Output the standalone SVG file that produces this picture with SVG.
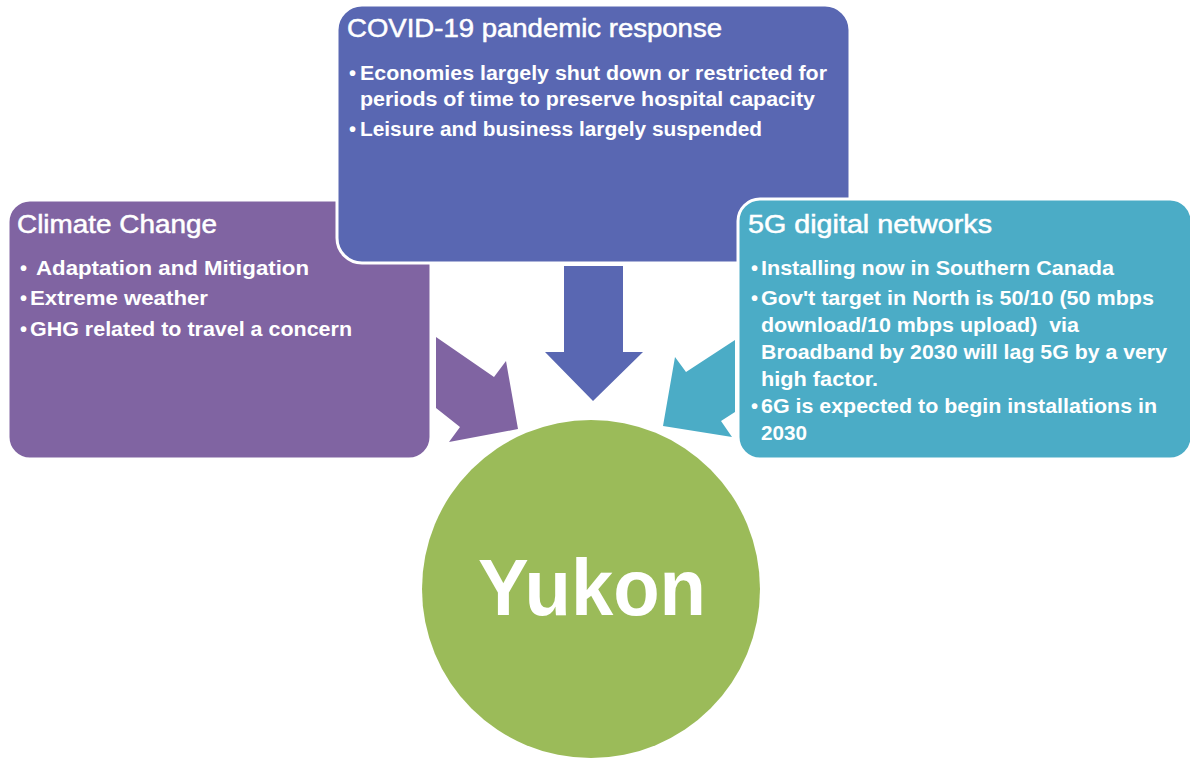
<svg xmlns="http://www.w3.org/2000/svg" width="1190" height="761" viewBox="0 0 1190 761">
  <style>
    .box { stroke: #ffffff; stroke-width: 3; }
    .title { font-family: "Liberation Sans", Arial, sans-serif; font-size: 25px; fill: #ffffff; stroke: #ffffff; stroke-width: 0.5px; }
    .item { font-family: "Liberation Sans", Arial, sans-serif; font-size: 20px; font-weight: bold; fill: #ffffff; }
    .big { font-family: "Liberation Sans", Arial, sans-serif; font-size: 80px; font-weight: bold; fill: #ffffff; }
  </style>
  <rect width="1190" height="761" fill="#ffffff"/>

  <g id="yukon">
    <circle cx="591" cy="589" r="169" fill="#9BBB59"/>
    <text class="big" x="478" y="615" textLength="228" lengthAdjust="spacingAndGlyphs">Yukon</text>
  </g>

  <g id="connectors">
    <polygon points="436,337 494,377 506,361 518,429 449,442 460,427 436,408" fill="#8064A2"/>
    <polygon points="564,266 623,266 623,352 643,352 593,401 545,352 564,352" fill="#5967B2"/>
    <polygon points="735,340 686,372 675,357 663,426 732,437 721,421 735,412" fill="#4BACC6"/>
  </g>

  <g id="climate">
    <rect class="box" x="8" y="200" width="423" height="259" rx="22" fill="#8064A2"/>
    <text class="title" x="17" y="233" textLength="200" lengthAdjust="spacingAndGlyphs">Climate Change</text>
    <text class="item" x="20" y="275">•</text>
    <text class="item" x="36" y="275" textLength="273" lengthAdjust="spacingAndGlyphs">Adaptation and Mitigation</text>
    <text class="item" x="20" y="305">•</text>
    <text class="item" x="30" y="305" textLength="178" lengthAdjust="spacingAndGlyphs">Extreme weather</text>
    <text class="item" x="20" y="336">•</text>
    <text class="item" x="30" y="336" textLength="322" lengthAdjust="spacingAndGlyphs">GHG related to travel a concern</text>
  </g>

  <g id="covid">
    <rect class="box" x="337" y="5" width="513" height="258" rx="25" fill="#5967B2"/>
    <text class="title" x="347" y="37" textLength="375" lengthAdjust="spacingAndGlyphs">COVID-19 pandemic response</text>
    <text class="item" x="349" y="80">•</text>
    <text class="item" x="360" y="80" textLength="467" lengthAdjust="spacingAndGlyphs">Economies largely shut down or restricted for</text>
    <text class="item" x="360" y="106" textLength="455" lengthAdjust="spacingAndGlyphs">periods of time to preserve hospital capacity</text>
    <text class="item" x="349" y="136">•</text>
    <text class="item" x="360" y="136" textLength="402" lengthAdjust="spacingAndGlyphs">Leisure and business largely suspended</text>
  </g>

  <g id="network">
    <rect class="box" x="738" y="199" width="454" height="260" rx="22" fill="#4BACC6"/>
    <text class="title" x="748" y="233" textLength="244" lengthAdjust="spacingAndGlyphs">5G digital networks</text>
    <text class="item" x="751" y="275">•</text>
    <text class="item" x="761" y="275" textLength="353" lengthAdjust="spacingAndGlyphs">Installing now in Southern Canada</text>
    <text class="item" x="751" y="305">•</text>
    <text class="item" x="761" y="305" textLength="393" lengthAdjust="spacingAndGlyphs">Gov't target in North is 50/10 (50 mbps</text>
    <text class="item" x="761" y="332" textLength="318" lengthAdjust="spacingAndGlyphs" xml:space="preserve">download/10 mbps upload)  via</text>
    <text class="item" x="761" y="359" textLength="406" lengthAdjust="spacingAndGlyphs">Broadband by 2030 will lag 5G by a very</text>
    <text class="item" x="761" y="386" textLength="117" lengthAdjust="spacingAndGlyphs">high factor.</text>
    <text class="item" x="751" y="413">•</text>
    <text class="item" x="761" y="413" textLength="396" lengthAdjust="spacingAndGlyphs">6G is expected to begin installations in</text>
    <text class="item" x="761" y="440" textLength="46" lengthAdjust="spacingAndGlyphs">2030</text>
  </g>
</svg>
